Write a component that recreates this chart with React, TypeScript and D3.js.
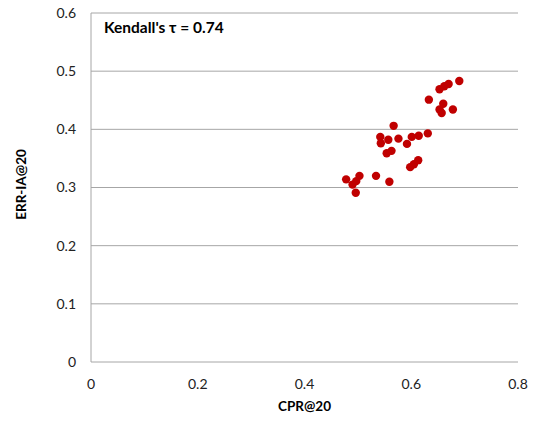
import React from "react";
import * as d3 from "d3";

const cprValues = [0.478, 0.490, 0.497, 0.496, 0.503, 0.534, 0.559, 0.554, 0.563, 0.542, 0.543, 0.557, 0.567, 0.576, 0.592, 0.601, 0.598, 0.605, 0.613, 0.614, 0.631, 0.633, 0.653, 0.657, 0.660, 0.678, 0.653, 0.662, 0.670, 0.690];
const erriaValues = [0.314, 0.305, 0.311, 0.291, 0.320, 0.320, 0.310, 0.359, 0.363, 0.387, 0.376, 0.382, 0.406, 0.384, 0.375, 0.387, 0.335, 0.340, 0.347, 0.389, 0.393, 0.451, 0.434, 0.428, 0.444, 0.434, 0.469, 0.474, 0.478, 0.483];
const xTicks = [0, 0.2, 0.4, 0.6, 0.8];
const yTicks = [0, 0.1, 0.2, 0.3, 0.4, 0.5, 0.6];
const xTitle = "CPR@20";
const yTitle = "ERR-IA@20";
const annotation = "Kendall's τ = 0.74";

export default function App() {
  const W = 536, H = 425;
  const left = 91, right = 518, top = 13, bottom = 362;
  const x = d3.scaleLinear().domain([0, 0.8]).range([left, right]);
  const y = d3.scaleLinear().domain([0, 0.6]).range([bottom, top]);
  const font = "Lato, 'Open Sans', sans-serif";
  return (
    <svg width={W} height={H} style={{ position: "absolute", left: 0, top: 0, background: "#fff" }} fontFamily={font}>
      {yTicks.map((t) => (
        <g key={"y" + t}>
          {t > 0 && (
            <line x1={left} x2={right} y1={y(t)} y2={y(t)} stroke="#a6a6a6" strokeWidth={1} />
          )}
          <text x={left - 15} y={y(t)} dy="0.35em" textAnchor="end" fontSize={14} fill="#222">
            {d3.format("")(t)}
          </text>
        </g>
      ))}
      <line x1={left} x2={left} y1={top} y2={bottom} stroke="#a6a6a6" strokeWidth={1} />
      <line x1={left} x2={right} y1={bottom} y2={bottom} stroke="#a6a6a6" strokeWidth={1} />
      {xTicks.map((t) => (
        <text key={"x" + t} x={x(t)} y={bottom + 22} dy="0.35em" textAnchor="middle" fontSize={14} fill="#222">
          {d3.format("")(t)}
        </text>
      ))}
      <text x={(left + right) / 2} y={411} textAnchor="middle" fontSize={13.5} fontWeight="bold" fill="#000">
        {xTitle}
      </text>
      <text transform={`translate(26, ${(top + bottom) / 2 - 3}) rotate(-90)`} textAnchor="middle" fontSize={13.5} fontWeight="bold" fill="#000">
        {yTitle}
      </text>
      <text x={104} y={33} fontSize={15.5} fontWeight="bold" fill="#000">
        {annotation}
      </text>
      {cprValues.map((v, i) => (
        <circle key={i} cx={x(v)} cy={y(erriaValues[i])} r={4.2} fill="#c00000" />
      ))}
    </svg>
  );
}
